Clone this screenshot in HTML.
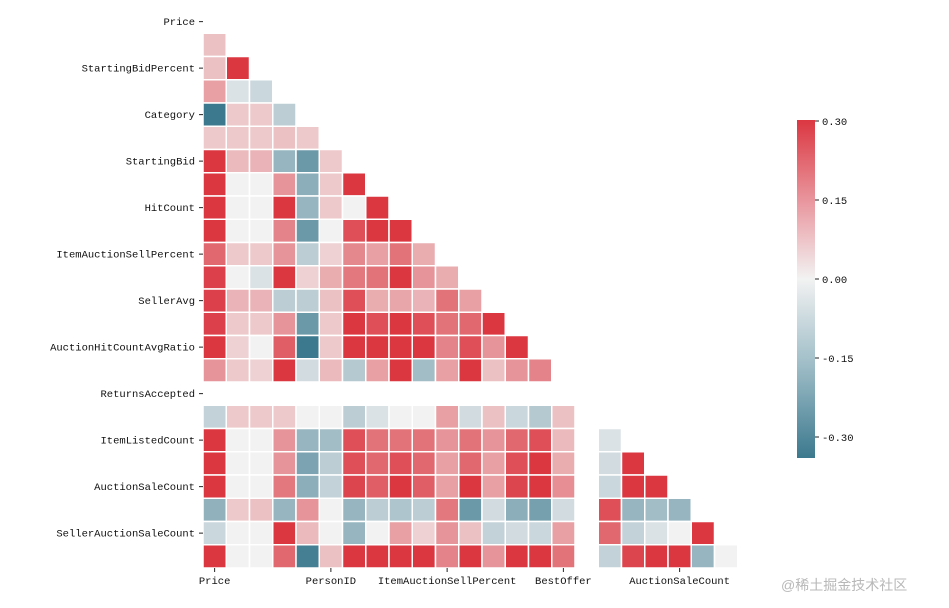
<!DOCTYPE html>
<html><head><meta charset="utf-8">
<style>
html,body{margin:0;padding:0;background:#fff;}
body{width:949px;height:603px;overflow:hidden;position:relative;font-family:"Liberation Mono","Noto Sans CJK SC",monospace;}
svg text{font-family:"Liberation Mono","Noto Sans CJK SC",monospace;font-size:10.5px;fill:#111;}
.wm{position:absolute;left:781px;top:575px;font-family:"Liberation Sans","Noto Sans CJK SC",sans-serif;font-size:14px;color:#b8b8b8;}
</style></head><body>
<svg id="chart" width="949" height="603" xmlns="http://www.w3.org/2000/svg">
<defs>
<linearGradient id="cbg" x1="0" y1="0" x2="0" y2="1">
<stop offset="0" stop-color="rgb(219,55,65)"/>
<stop offset="0.24" stop-color="rgb(233,150,158)"/>
<stop offset="0.47" stop-color="rgb(242,242,242)"/>
<stop offset="0.72" stop-color="rgb(160,190,200)"/>
<stop offset="1" stop-color="rgb(60,121,142)"/>
</linearGradient>
</defs>
<g id="cells"></g><g id="ylabels"></g><g id="xlabels"></g>
<g id="cbar"></g>
</svg>
<div class="wm">@稀土掘金技术社区</div>
<script>
const names = ["Price","EndDay","StartingBidPercent","SellerClosePercent","Category","PersonID","StartingBid","AuctionAvgHitCount","HitCount","AuctionMedianPrice","ItemAuctionSellPercent","SellerSaleAvgPriceRatio","SellerAvg","StartingBidAvgRatio","AuctionHitCountAvgRatio","BestOffer","ReturnsAccepted","IsHOF","ItemListedCount","AuctionCount","AuctionSaleCount","SellerAuctionCount","SellerAuctionSaleCount","QuantitySold"];
const corr = [
[],
[0.05],
[0.05,0.3],
[0.1,-0.02,-0.04],
[-0.3,0.04,0.04,-0.06],
[0.04,0.04,0.04,0.05,0.04],
[0.3,0.06,0.07,-0.12,-0.2,0.04],
[0.3,0,0,0.12,-0.14,0.04,0.3],
[0.3,0,0,0.3,-0.12,0.04,0,0.3],
[0.3,0,0,0.15,-0.2,0,0.25,0.3,0.3],
[0.2,0.04,0.04,0.12,-0.06,0.03,0.14,0.1,0.18,0.08],
[0.28,0,-0.02,0.3,0.03,0.08,0.17,0.18,0.3,0.12,0.08],
[0.28,0.07,0.07,-0.06,-0.06,0.05,0.25,0.08,0.09,0.07,0.18,0.1],
[0.28,0.04,0.04,0.12,-0.2,0.04,0.3,0.25,0.3,0.25,0.18,0.2,0.3],
[0.3,0.03,0,0.22,-0.3,0.04,0.3,0.3,0.3,0.3,0.15,0.25,0.12,0.3],
[0.12,0.04,0.03,0.3,-0.03,0.06,-0.07,0.1,0.3,-0.1,0.1,0.3,0.05,0.12,0.15],
[null,null,null,null,null,null,null,null,null,null,null,null,null,null,null,null],
[-0.05,0.04,0.04,0.04,0,0,-0.06,-0.02,0,0,0.1,-0.03,0.05,-0.04,-0.07,0.05,null],
[0.3,0,0,0.12,-0.12,-0.1,0.25,0.18,0.18,0.18,0.12,0.18,0.12,0.2,0.25,0.06,null,-0.02],
[0.3,0,0,0.12,-0.17,-0.06,0.25,0.2,0.25,0.2,0.1,0.2,0.1,0.25,0.3,0.08,null,-0.03,0.3],
[0.3,0,0,0.17,-0.14,-0.05,0.27,0.22,0.3,0.22,0.1,0.3,0.1,0.27,0.3,0.13,null,-0.04,0.3,0.3],
[-0.13,0.04,0.05,-0.12,0.12,0,-0.12,-0.06,-0.08,-0.06,0.17,-0.2,-0.03,-0.14,-0.18,-0.03,null,0.25,-0.12,-0.1,-0.12],
[-0.04,0,0,0.3,0.06,0,-0.12,0,0.1,0.03,0.12,0.05,-0.05,-0.03,-0.04,0.1,null,0.2,-0.05,-0.02,0,0.3],
[0.3,0,0,0.2,-0.28,0.05,0.3,0.3,0.3,0.3,0.15,0.3,0.12,0.3,0.3,0.18,null,-0.05,0.27,0.3,0.3,-0.12,0]
];
const cbTicks = [0.30,0.15,0.00,-0.15,-0.30];

const X0=203,Y0=10,CS=23.25,VMAX=0.3;
const xPos = c => X0 + c*CS;
const yPos = r => Y0 + r*CS;
const hi=[219,55,65],mid=[242,242,242],lo=[60,121,142];
function color(v){
  let t=Math.max(-1,Math.min(1,v/VMAX));
  const e=t>=0?hi:lo; t=Math.pow(Math.abs(t),0.75);
  return 'rgb('+mid.map((m,i)=>Math.round(m+(e[i]-m)*t)).join(',')+')';
}
const NS='http://www.w3.org/2000/svg';
function mk(tag,attrs,parent){const e=document.createElementNS(NS,tag);for(const k in attrs)e.setAttribute(k,attrs[k]);parent.appendChild(e);return e;}
const cells=document.getElementById('cells');
corr.forEach((row,r)=>row.forEach((v,c)=>{
  if(v===null)return;
  const el=mk('rect',{x:xPos(c),y:yPos(r),width:CS,height:CS,fill:color(v),stroke:'#fff','stroke-width':1.5},cells);
  
  
}));
const yl=document.getElementById('ylabels');
names.forEach((n,i)=>{
  if(i%2)return;
  const y=yPos(i)+CS/2;
  const t=mk('text',{x:195,y:y+3.5,'text-anchor':'end'},yl);t.textContent=n;
  
  
  mk('line',{x1:199,x2:203,y1:y,y2:y,stroke:'#222','stroke-width':1},yl);
});
const xl=document.getElementById('xlabels');
names.forEach((n,i)=>{
  if(i%5)return;
  const x=xPos(i)+CS/2, yb=yPos(24);
  mk('line',{x1:x,x2:x,y1:yb,y2:yb+4,stroke:'#222','stroke-width':1},xl);
  const t=mk('text',{x:x,y:yb+16,'text-anchor':'middle'},xl);t.textContent=n;
  
  
});
const cb=document.getElementById('cbar');
const CBT=120,CBB=458,CBX=797,CBW=18;
const cbY = v => 279 - v/0.3*158;
const bar=mk('rect',{x:CBX,y:CBT,width:CBW,height:CBB-CBT,fill:'url(#cbg)'},cb);


cbTicks.forEach(v=>{
  const y=cbY(v);
  mk('line',{x1:CBX+CBW,x2:CBX+CBW+4,y1:y,y2:y,stroke:'#222'},cb);
  const t=mk('text',{x:CBX+CBW+7,y:y+4},cb);t.textContent=(v<0?'-':'')+Math.abs(v).toFixed(2);
  
  
});
</script>
</body></html>
